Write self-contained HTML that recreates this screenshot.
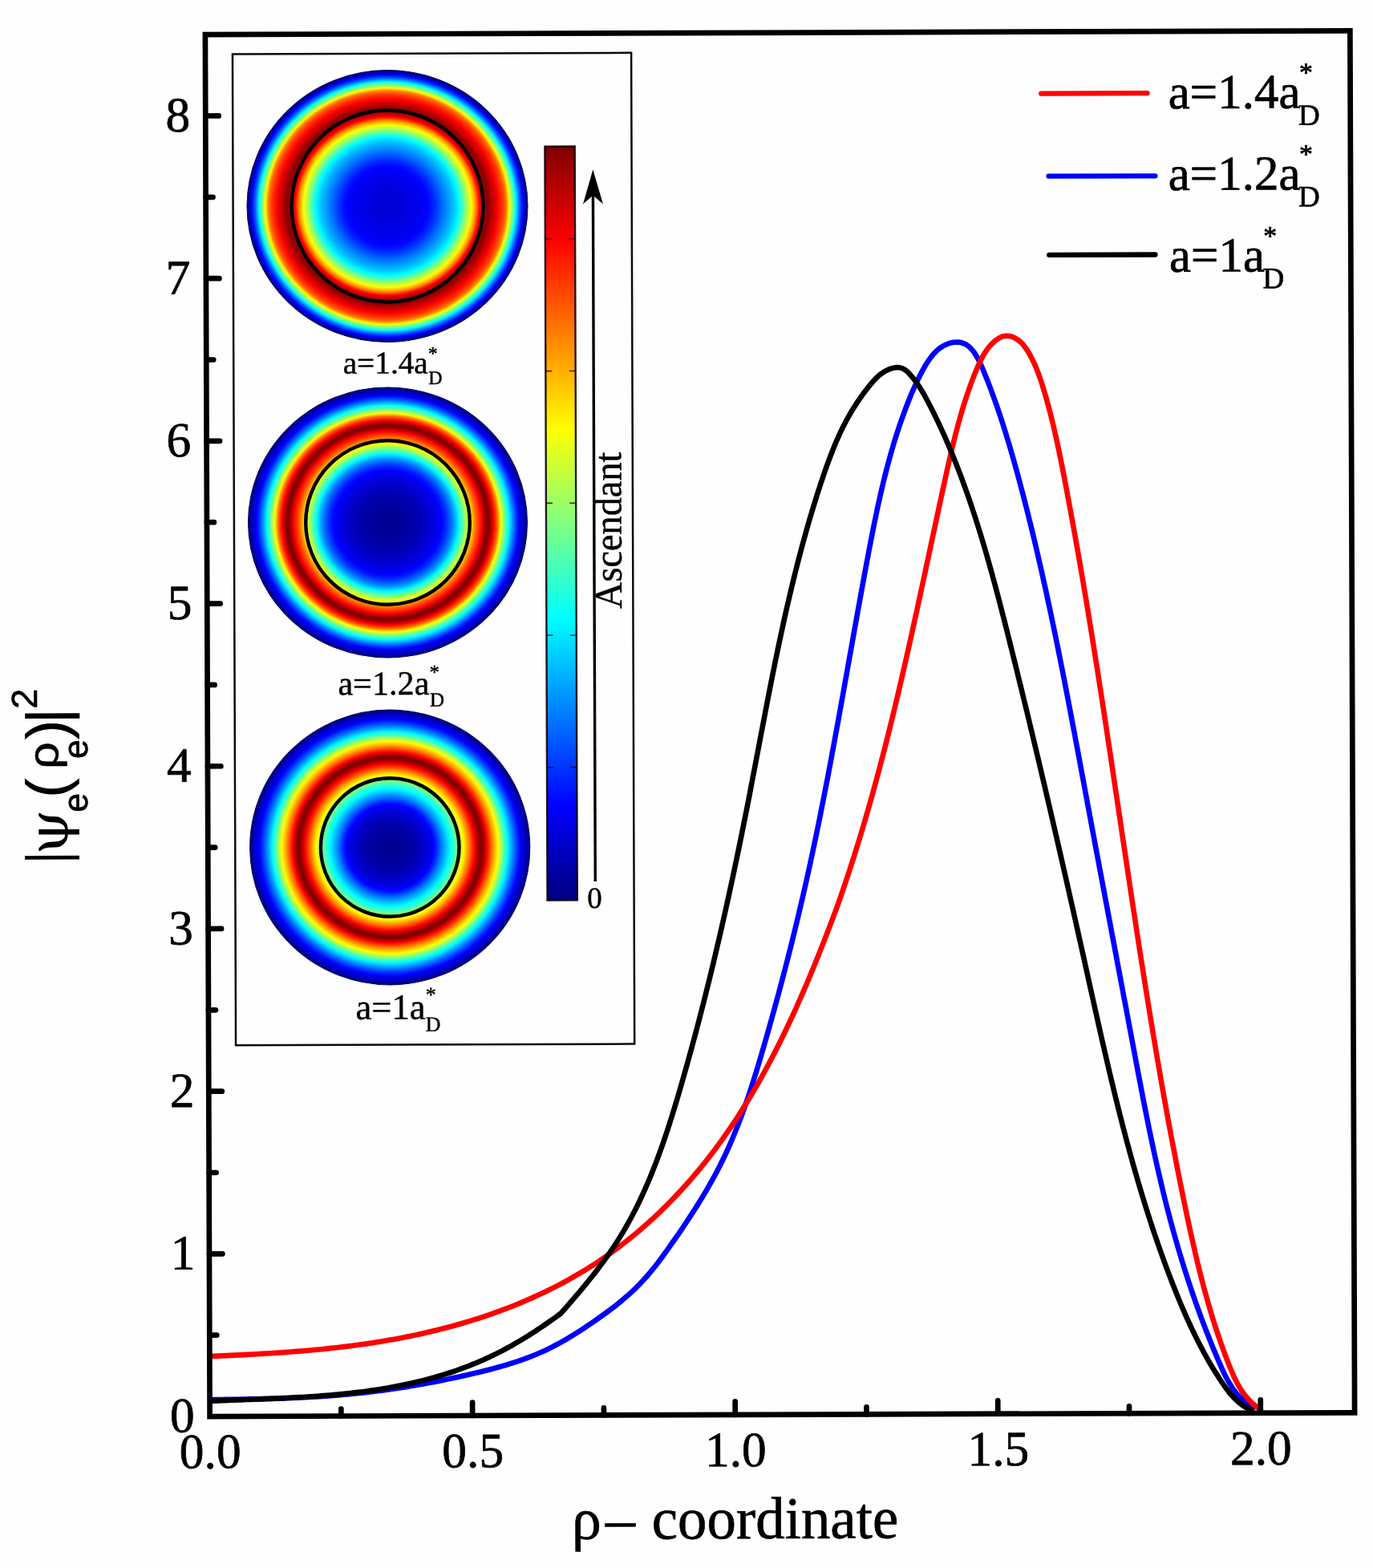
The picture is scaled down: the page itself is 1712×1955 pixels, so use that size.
<!DOCTYPE html>
<html lang="en">
<head>
<meta charset="utf-8">
<title>Electron probability density versus rho coordinate</title>
<style>
html,body{margin:0;padding:0;background:#fefefe;}
body{width:1712px;height:1955px;overflow:hidden;}
svg{display:block;}
text{fill:#000;stroke:#000;stroke-width:0.7px;stroke-linejoin:round;}
.sm{stroke-width:0.45px;}
.ns{stroke:none;}
.serif{font-family:'Liberation Serif', 'DejaVu Serif', serif;}
.sans{font-family:'Liberation Sans', 'DejaVu Sans', sans-serif;}
.dserif{font-family:'DejaVu Serif','Liberation Serif',serif;}
</style>
</head>
<body>
<svg width="1712" height="1955" viewBox="0 0 1712 1955">
<defs>
<radialGradient id="disc0" cx="0.5" cy="0.5" r="0.5" fx="0.5" fy="0.5"><stop offset="0.0000" stop-color="#0000d6"/><stop offset="0.0083" stop-color="#0000d6"/><stop offset="0.0167" stop-color="#0000d6"/><stop offset="0.0250" stop-color="#0000d7"/><stop offset="0.0333" stop-color="#0000d7"/><stop offset="0.0417" stop-color="#0000d7"/><stop offset="0.0500" stop-color="#0000d8"/><stop offset="0.0583" stop-color="#0000d9"/><stop offset="0.0667" stop-color="#0000d9"/><stop offset="0.0750" stop-color="#0000da"/><stop offset="0.0833" stop-color="#0000db"/><stop offset="0.0917" stop-color="#0000dc"/><stop offset="0.1000" stop-color="#0000dc"/><stop offset="0.1083" stop-color="#0000dd"/><stop offset="0.1167" stop-color="#0000de"/><stop offset="0.1250" stop-color="#0000df"/><stop offset="0.1333" stop-color="#0000e0"/><stop offset="0.1417" stop-color="#0000e2"/><stop offset="0.1500" stop-color="#0000e3"/><stop offset="0.1583" stop-color="#0000e4"/><stop offset="0.1667" stop-color="#0000e5"/><stop offset="0.1750" stop-color="#0000e6"/><stop offset="0.1833" stop-color="#0000e7"/><stop offset="0.1917" stop-color="#0000e8"/><stop offset="0.2000" stop-color="#0000ea"/><stop offset="0.2083" stop-color="#0000eb"/><stop offset="0.2167" stop-color="#0000ed"/><stop offset="0.2250" stop-color="#0000ef"/><stop offset="0.2333" stop-color="#0000f1"/><stop offset="0.2417" stop-color="#0000f3"/><stop offset="0.2500" stop-color="#0000f5"/><stop offset="0.2583" stop-color="#0000f8"/><stop offset="0.2667" stop-color="#0000fa"/><stop offset="0.2750" stop-color="#0000fd"/><stop offset="0.2833" stop-color="#0001ff"/><stop offset="0.2917" stop-color="#0005ff"/><stop offset="0.3000" stop-color="#000aff"/><stop offset="0.3083" stop-color="#0010ff"/><stop offset="0.3167" stop-color="#0017ff"/><stop offset="0.3250" stop-color="#001fff"/><stop offset="0.3333" stop-color="#0027ff"/><stop offset="0.3417" stop-color="#002fff"/><stop offset="0.3500" stop-color="#0038ff"/><stop offset="0.3583" stop-color="#0042ff"/><stop offset="0.3667" stop-color="#004bff"/><stop offset="0.3750" stop-color="#0055ff"/><stop offset="0.3833" stop-color="#005fff"/><stop offset="0.3917" stop-color="#0069ff"/><stop offset="0.4000" stop-color="#0073ff"/><stop offset="0.4083" stop-color="#007cff"/><stop offset="0.4167" stop-color="#0085ff"/><stop offset="0.4250" stop-color="#008eff"/><stop offset="0.4333" stop-color="#0097ff"/><stop offset="0.4417" stop-color="#00a0ff"/><stop offset="0.4500" stop-color="#00a9ff"/><stop offset="0.4583" stop-color="#00b2ff"/><stop offset="0.4667" stop-color="#00bcff"/><stop offset="0.4750" stop-color="#00c6ff"/><stop offset="0.4833" stop-color="#00d1ff"/><stop offset="0.4917" stop-color="#00deff"/><stop offset="0.5000" stop-color="#00ebff"/><stop offset="0.5083" stop-color="#00f9ff"/><stop offset="0.5167" stop-color="#0bfff4"/><stop offset="0.5250" stop-color="#22ffdd"/><stop offset="0.5333" stop-color="#3cffc3"/><stop offset="0.5417" stop-color="#57ffa8"/><stop offset="0.5500" stop-color="#72ff8d"/><stop offset="0.5583" stop-color="#8bff74"/><stop offset="0.5667" stop-color="#a3ff5c"/><stop offset="0.5750" stop-color="#baff45"/><stop offset="0.5833" stop-color="#d1ff2e"/><stop offset="0.5917" stop-color="#eaff15"/><stop offset="0.6000" stop-color="#fff900"/><stop offset="0.6083" stop-color="#ffdd00"/><stop offset="0.6167" stop-color="#ffbe00"/><stop offset="0.6250" stop-color="#ff9d00"/><stop offset="0.6333" stop-color="#ff7900"/><stop offset="0.6417" stop-color="#ff4e00"/><stop offset="0.6500" stop-color="#ff2000"/><stop offset="0.6583" stop-color="#fb0000"/><stop offset="0.6667" stop-color="#e00000"/><stop offset="0.6750" stop-color="#ca0000"/><stop offset="0.6833" stop-color="#b70000"/><stop offset="0.6917" stop-color="#a70000"/><stop offset="0.7000" stop-color="#970000"/><stop offset="0.7083" stop-color="#8c0000"/><stop offset="0.7167" stop-color="#8a0000"/><stop offset="0.7250" stop-color="#930000"/><stop offset="0.7333" stop-color="#a10000"/><stop offset="0.7417" stop-color="#b10000"/><stop offset="0.7500" stop-color="#be0000"/><stop offset="0.7583" stop-color="#cb0000"/><stop offset="0.7667" stop-color="#d80000"/><stop offset="0.7750" stop-color="#e70000"/><stop offset="0.7833" stop-color="#f50000"/><stop offset="0.7917" stop-color="#ff0600"/><stop offset="0.8000" stop-color="#ff1400"/><stop offset="0.8083" stop-color="#ff2200"/><stop offset="0.8167" stop-color="#ff3000"/><stop offset="0.8250" stop-color="#ff4000"/><stop offset="0.8333" stop-color="#ff5300"/><stop offset="0.8417" stop-color="#ff6900"/><stop offset="0.8500" stop-color="#ff8500"/><stop offset="0.8583" stop-color="#ffb700"/><stop offset="0.8667" stop-color="#fff300"/><stop offset="0.8750" stop-color="#daff25"/><stop offset="0.8833" stop-color="#acff53"/><stop offset="0.8917" stop-color="#7eff81"/><stop offset="0.9000" stop-color="#50ffaf"/><stop offset="0.9083" stop-color="#21ffde"/><stop offset="0.9167" stop-color="#00f2ff"/><stop offset="0.9250" stop-color="#00c2ff"/><stop offset="0.9333" stop-color="#0092ff"/><stop offset="0.9417" stop-color="#0067ff"/><stop offset="0.9500" stop-color="#0041ff"/><stop offset="0.9583" stop-color="#001eff"/><stop offset="0.9667" stop-color="#0000fb"/><stop offset="0.9750" stop-color="#0000d5"/><stop offset="0.9833" stop-color="#0000b1"/><stop offset="0.9917" stop-color="#000093"/><stop offset="1.0000" stop-color="#000080"/></radialGradient>
<radialGradient id="disc1" cx="0.5" cy="0.5" r="0.5" fx="0.5" fy="0.5"><stop offset="0.0000" stop-color="#000094"/><stop offset="0.0083" stop-color="#000094"/><stop offset="0.0167" stop-color="#000094"/><stop offset="0.0250" stop-color="#000094"/><stop offset="0.0333" stop-color="#000095"/><stop offset="0.0417" stop-color="#000095"/><stop offset="0.0500" stop-color="#000096"/><stop offset="0.0583" stop-color="#000097"/><stop offset="0.0667" stop-color="#000097"/><stop offset="0.0750" stop-color="#000098"/><stop offset="0.0833" stop-color="#000099"/><stop offset="0.0917" stop-color="#00009a"/><stop offset="0.1000" stop-color="#00009b"/><stop offset="0.1083" stop-color="#00009c"/><stop offset="0.1167" stop-color="#00009e"/><stop offset="0.1250" stop-color="#00009f"/><stop offset="0.1333" stop-color="#0000a0"/><stop offset="0.1417" stop-color="#0000a1"/><stop offset="0.1500" stop-color="#0000a3"/><stop offset="0.1583" stop-color="#0000a4"/><stop offset="0.1667" stop-color="#0000a6"/><stop offset="0.1750" stop-color="#0000a7"/><stop offset="0.1833" stop-color="#0000a9"/><stop offset="0.1917" stop-color="#0000aa"/><stop offset="0.2000" stop-color="#0000ac"/><stop offset="0.2083" stop-color="#0000af"/><stop offset="0.2167" stop-color="#0000b1"/><stop offset="0.2250" stop-color="#0000b4"/><stop offset="0.2333" stop-color="#0000b7"/><stop offset="0.2417" stop-color="#0000ba"/><stop offset="0.2500" stop-color="#0000bd"/><stop offset="0.2583" stop-color="#0000c0"/><stop offset="0.2667" stop-color="#0000c3"/><stop offset="0.2750" stop-color="#0000c7"/><stop offset="0.2833" stop-color="#0000ca"/><stop offset="0.2917" stop-color="#0000ce"/><stop offset="0.3000" stop-color="#0000d1"/><stop offset="0.3083" stop-color="#0000d5"/><stop offset="0.3167" stop-color="#0000d8"/><stop offset="0.3250" stop-color="#0000dc"/><stop offset="0.3333" stop-color="#0000e0"/><stop offset="0.3417" stop-color="#0000e4"/><stop offset="0.3500" stop-color="#0000e8"/><stop offset="0.3583" stop-color="#0000ed"/><stop offset="0.3667" stop-color="#0000f3"/><stop offset="0.3750" stop-color="#0000f9"/><stop offset="0.3833" stop-color="#0000ff"/><stop offset="0.3917" stop-color="#0008ff"/><stop offset="0.4000" stop-color="#0011ff"/><stop offset="0.4083" stop-color="#001cff"/><stop offset="0.4167" stop-color="#0028ff"/><stop offset="0.4250" stop-color="#0036ff"/><stop offset="0.4333" stop-color="#0044ff"/><stop offset="0.4417" stop-color="#0054ff"/><stop offset="0.4500" stop-color="#0064ff"/><stop offset="0.4583" stop-color="#0074ff"/><stop offset="0.4667" stop-color="#0086ff"/><stop offset="0.4750" stop-color="#0099ff"/><stop offset="0.4833" stop-color="#00aeff"/><stop offset="0.4917" stop-color="#00c6ff"/><stop offset="0.5000" stop-color="#00deff"/><stop offset="0.5083" stop-color="#00f7ff"/><stop offset="0.5167" stop-color="#12ffed"/><stop offset="0.5250" stop-color="#2dffd2"/><stop offset="0.5333" stop-color="#4affb5"/><stop offset="0.5417" stop-color="#68ff97"/><stop offset="0.5500" stop-color="#85ff7a"/><stop offset="0.5583" stop-color="#a2ff5d"/><stop offset="0.5667" stop-color="#beff41"/><stop offset="0.5750" stop-color="#d8ff27"/><stop offset="0.5833" stop-color="#f3ff0c"/><stop offset="0.5917" stop-color="#fff100"/><stop offset="0.6000" stop-color="#ffd600"/><stop offset="0.6083" stop-color="#ffba00"/><stop offset="0.6167" stop-color="#ff9b00"/><stop offset="0.6250" stop-color="#ff7f00"/><stop offset="0.6333" stop-color="#ff6600"/><stop offset="0.6417" stop-color="#ff4f00"/><stop offset="0.6500" stop-color="#ff3a00"/><stop offset="0.6583" stop-color="#ff2500"/><stop offset="0.6667" stop-color="#ff0f00"/><stop offset="0.6750" stop-color="#f80000"/><stop offset="0.6833" stop-color="#dc0000"/><stop offset="0.6917" stop-color="#bd0000"/><stop offset="0.7000" stop-color="#a00000"/><stop offset="0.7083" stop-color="#8a0000"/><stop offset="0.7167" stop-color="#800000"/><stop offset="0.7250" stop-color="#850000"/><stop offset="0.7333" stop-color="#9b0000"/><stop offset="0.7417" stop-color="#ba0000"/><stop offset="0.7500" stop-color="#dd0000"/><stop offset="0.7583" stop-color="#fe0000"/><stop offset="0.7667" stop-color="#ff1d00"/><stop offset="0.7750" stop-color="#ff3e00"/><stop offset="0.7833" stop-color="#ff6100"/><stop offset="0.7917" stop-color="#ff8a00"/><stop offset="0.8000" stop-color="#ffc000"/><stop offset="0.8083" stop-color="#fff700"/><stop offset="0.8167" stop-color="#dbff24"/><stop offset="0.8250" stop-color="#b2ff4d"/><stop offset="0.8333" stop-color="#8bff74"/><stop offset="0.8417" stop-color="#66ff99"/><stop offset="0.8500" stop-color="#43ffbc"/><stop offset="0.8583" stop-color="#21ffde"/><stop offset="0.8667" stop-color="#00ffff"/><stop offset="0.8750" stop-color="#00deff"/><stop offset="0.8833" stop-color="#00beff"/><stop offset="0.8917" stop-color="#009eff"/><stop offset="0.9000" stop-color="#007fff"/><stop offset="0.9083" stop-color="#0062ff"/><stop offset="0.9167" stop-color="#0046ff"/><stop offset="0.9250" stop-color="#002bff"/><stop offset="0.9333" stop-color="#0013ff"/><stop offset="0.9417" stop-color="#0000fb"/><stop offset="0.9500" stop-color="#0000e8"/><stop offset="0.9583" stop-color="#0000d6"/><stop offset="0.9667" stop-color="#0000c6"/><stop offset="0.9750" stop-color="#0000b6"/><stop offset="0.9833" stop-color="#0000a5"/><stop offset="0.9917" stop-color="#000093"/><stop offset="1.0000" stop-color="#000080"/></radialGradient>
<radialGradient id="disc2" cx="0.5" cy="0.5" r="0.5" fx="0.5" fy="0.5"><stop offset="0.0000" stop-color="#000094"/><stop offset="0.0083" stop-color="#000094"/><stop offset="0.0167" stop-color="#000094"/><stop offset="0.0250" stop-color="#000095"/><stop offset="0.0333" stop-color="#000095"/><stop offset="0.0417" stop-color="#000096"/><stop offset="0.0500" stop-color="#000096"/><stop offset="0.0583" stop-color="#000097"/><stop offset="0.0667" stop-color="#000098"/><stop offset="0.0750" stop-color="#000099"/><stop offset="0.0833" stop-color="#00009a"/><stop offset="0.0917" stop-color="#00009b"/><stop offset="0.1000" stop-color="#00009c"/><stop offset="0.1083" stop-color="#00009e"/><stop offset="0.1167" stop-color="#00009f"/><stop offset="0.1250" stop-color="#0000a1"/><stop offset="0.1333" stop-color="#0000a2"/><stop offset="0.1417" stop-color="#0000a4"/><stop offset="0.1500" stop-color="#0000a6"/><stop offset="0.1583" stop-color="#0000a7"/><stop offset="0.1667" stop-color="#0000a9"/><stop offset="0.1750" stop-color="#0000ab"/><stop offset="0.1833" stop-color="#0000ae"/><stop offset="0.1917" stop-color="#0000b2"/><stop offset="0.2000" stop-color="#0000b6"/><stop offset="0.2083" stop-color="#0000ba"/><stop offset="0.2167" stop-color="#0000be"/><stop offset="0.2250" stop-color="#0000c3"/><stop offset="0.2333" stop-color="#0000c8"/><stop offset="0.2417" stop-color="#0000cd"/><stop offset="0.2500" stop-color="#0000d1"/><stop offset="0.2583" stop-color="#0000d6"/><stop offset="0.2667" stop-color="#0000db"/><stop offset="0.2750" stop-color="#0000e1"/><stop offset="0.2833" stop-color="#0000e6"/><stop offset="0.2917" stop-color="#0000ed"/><stop offset="0.3000" stop-color="#0000f4"/><stop offset="0.3083" stop-color="#0000fd"/><stop offset="0.3167" stop-color="#0008ff"/><stop offset="0.3250" stop-color="#0016ff"/><stop offset="0.3333" stop-color="#0028ff"/><stop offset="0.3417" stop-color="#003bff"/><stop offset="0.3500" stop-color="#004fff"/><stop offset="0.3583" stop-color="#0064ff"/><stop offset="0.3667" stop-color="#0077ff"/><stop offset="0.3750" stop-color="#0089ff"/><stop offset="0.3833" stop-color="#009bff"/><stop offset="0.3917" stop-color="#00acff"/><stop offset="0.4000" stop-color="#00beff"/><stop offset="0.4083" stop-color="#00cfff"/><stop offset="0.4167" stop-color="#00e1ff"/><stop offset="0.4250" stop-color="#00f3ff"/><stop offset="0.4333" stop-color="#06fff9"/><stop offset="0.4417" stop-color="#17ffe8"/><stop offset="0.4500" stop-color="#28ffd7"/><stop offset="0.4583" stop-color="#3affc5"/><stop offset="0.4667" stop-color="#4dffb2"/><stop offset="0.4750" stop-color="#62ff9d"/><stop offset="0.4833" stop-color="#79ff86"/><stop offset="0.4917" stop-color="#93ff6c"/><stop offset="0.5000" stop-color="#aeff51"/><stop offset="0.5083" stop-color="#caff35"/><stop offset="0.5167" stop-color="#e5ff1a"/><stop offset="0.5250" stop-color="#fffe00"/><stop offset="0.5333" stop-color="#ffe300"/><stop offset="0.5417" stop-color="#ffc900"/><stop offset="0.5500" stop-color="#ffae00"/><stop offset="0.5583" stop-color="#ff9400"/><stop offset="0.5667" stop-color="#ff7900"/><stop offset="0.5750" stop-color="#ff5e00"/><stop offset="0.5833" stop-color="#ff4300"/><stop offset="0.5917" stop-color="#ff2800"/><stop offset="0.6000" stop-color="#ff0e00"/><stop offset="0.6083" stop-color="#f50000"/><stop offset="0.6167" stop-color="#da0000"/><stop offset="0.6250" stop-color="#bd0000"/><stop offset="0.6333" stop-color="#a40000"/><stop offset="0.6417" stop-color="#8f0000"/><stop offset="0.6500" stop-color="#820000"/><stop offset="0.6583" stop-color="#810000"/><stop offset="0.6667" stop-color="#910000"/><stop offset="0.6750" stop-color="#ae0000"/><stop offset="0.6833" stop-color="#d00000"/><stop offset="0.6917" stop-color="#f20000"/><stop offset="0.7000" stop-color="#ff1000"/><stop offset="0.7083" stop-color="#ff2d00"/><stop offset="0.7167" stop-color="#ff4b00"/><stop offset="0.7250" stop-color="#ff6800"/><stop offset="0.7333" stop-color="#ff8400"/><stop offset="0.7417" stop-color="#ff9f00"/><stop offset="0.7500" stop-color="#ffb900"/><stop offset="0.7583" stop-color="#ffd200"/><stop offset="0.7667" stop-color="#ffed00"/><stop offset="0.7750" stop-color="#f5ff0a"/><stop offset="0.7833" stop-color="#d6ff29"/><stop offset="0.7917" stop-color="#b6ff49"/><stop offset="0.8000" stop-color="#94ff6b"/><stop offset="0.8083" stop-color="#72ff8d"/><stop offset="0.8167" stop-color="#51ffae"/><stop offset="0.8250" stop-color="#31ffce"/><stop offset="0.8333" stop-color="#13ffec"/><stop offset="0.8417" stop-color="#00f7ff"/><stop offset="0.8500" stop-color="#00dcff"/><stop offset="0.8583" stop-color="#00c3ff"/><stop offset="0.8667" stop-color="#00aaff"/><stop offset="0.8750" stop-color="#0091ff"/><stop offset="0.8833" stop-color="#007aff"/><stop offset="0.8917" stop-color="#0063ff"/><stop offset="0.9000" stop-color="#004dff"/><stop offset="0.9083" stop-color="#0038ff"/><stop offset="0.9167" stop-color="#0024ff"/><stop offset="0.9250" stop-color="#0010ff"/><stop offset="0.9333" stop-color="#0000fd"/><stop offset="0.9417" stop-color="#0000ec"/><stop offset="0.9500" stop-color="#0000dd"/><stop offset="0.9583" stop-color="#0000ce"/><stop offset="0.9667" stop-color="#0000c0"/><stop offset="0.9750" stop-color="#0000b2"/><stop offset="0.9833" stop-color="#0000a3"/><stop offset="0.9917" stop-color="#000092"/><stop offset="1.0000" stop-color="#000080"/></radialGradient>
<linearGradient id="cbar" x1="0" y1="0" x2="0" y2="1"><stop offset="0.0000" stop-color="#800000"/><stop offset="0.0312" stop-color="#9f0000"/><stop offset="0.0625" stop-color="#bf0000"/><stop offset="0.0938" stop-color="#df0000"/><stop offset="0.1250" stop-color="#ff0000"/><stop offset="0.1562" stop-color="#ff2000"/><stop offset="0.1875" stop-color="#ff4000"/><stop offset="0.2188" stop-color="#ff6000"/><stop offset="0.2500" stop-color="#ff8000"/><stop offset="0.2812" stop-color="#ff9f00"/><stop offset="0.3125" stop-color="#ffbf00"/><stop offset="0.3438" stop-color="#ffdf00"/><stop offset="0.3750" stop-color="#ffff00"/><stop offset="0.4062" stop-color="#dfff20"/><stop offset="0.4375" stop-color="#bfff40"/><stop offset="0.4688" stop-color="#9fff60"/><stop offset="0.5000" stop-color="#80ff80"/><stop offset="0.5312" stop-color="#60ff9f"/><stop offset="0.5625" stop-color="#40ffbf"/><stop offset="0.5938" stop-color="#20ffdf"/><stop offset="0.6250" stop-color="#00ffff"/><stop offset="0.6562" stop-color="#00dfff"/><stop offset="0.6875" stop-color="#00bfff"/><stop offset="0.7188" stop-color="#009fff"/><stop offset="0.7500" stop-color="#0080ff"/><stop offset="0.7812" stop-color="#0060ff"/><stop offset="0.8125" stop-color="#0040ff"/><stop offset="0.8438" stop-color="#0020ff"/><stop offset="0.8750" stop-color="#0000ff"/><stop offset="0.9062" stop-color="#0000df"/><stop offset="0.9375" stop-color="#0000bf"/><stop offset="0.9688" stop-color="#00009f"/><stop offset="1.0000" stop-color="#000080"/></linearGradient>
<clipPath id="plotclip"><rect x="259" y="41.1" width="1427.5" height="1723"/></clipPath>
</defs>
<rect x="0" y="0" width="1712" height="1955" fill="#fefefe"/>
<g transform="rotate(-0.19 856.0 977.5)">
<rect x="292.97" y="65.6" width="497.15" height="1235.76" fill="#fefefe" stroke="#0c0c0c" stroke-width="2.5"/>
<ellipse cx="485.39" cy="255.77" rx="175" ry="169.4" fill="url(#disc0)" stroke="#000050" stroke-width="1"/>
<circle cx="485.39" cy="255.77" r="119.5" fill="none" stroke="#000" stroke-width="4.4"/>
<ellipse cx="484.58" cy="650.27" rx="174" ry="168.5" fill="url(#disc1)" stroke="#000050" stroke-width="1"/>
<circle cx="484.58" cy="650.27" r="102.3" fill="none" stroke="#000" stroke-width="4.4"/>
<ellipse cx="485.94" cy="1055.27" rx="174.6" ry="171.4" fill="url(#disc2)" stroke="#000050" stroke-width="1"/>
<circle cx="485.94" cy="1055.27" r="86.3" fill="none" stroke="#000" stroke-width="4.4"/>
<rect x="682.04" y="182.01" width="37.3" height="939.94" fill="url(#cbar)" stroke="#10000a" stroke-opacity="0.9" stroke-width="2.4"/>
<path d="M682.04 297.59h8M719.34 297.59h-8" stroke="#200" stroke-opacity="0.8" stroke-width="1.6" fill="none"/>
<path d="M682.04 462.09h8M719.34 462.09h-8" stroke="#200" stroke-opacity="0.8" stroke-width="1.6" fill="none"/>
<path d="M682.04 626.78h8M719.34 626.78h-8" stroke="#200" stroke-opacity="0.8" stroke-width="1.6" fill="none"/>
<path d="M682.04 791.48h8M719.34 791.48h-8" stroke="#200" stroke-opacity="0.8" stroke-width="1.6" fill="none"/>
<path d="M682.04 956.18h8M719.34 956.18h-8" stroke="#200" stroke-opacity="0.8" stroke-width="1.6" fill="none"/>
<path d="M741.87 1098.62V241.12" stroke="#000" stroke-width="3.4" fill="none"/>
<path d="M741.87 211.12L754.37 254.12L741.87 243.12L729.37 254.12Z" fill="#000"/>
<path d="M258.79 1743.22L263.9 1743.16L269.02 1743.11L274.13 1743.05L279.25 1743L284.37 1742.94L289.49 1742.88L294.61 1742.82L299.73 1742.75L304.86 1742.68L309.98 1742.6L315.11 1742.52L320.23 1742.43L325.36 1742.33L330.49 1742.23L335.62 1742.11L340.74 1741.98L345.87 1741.84L351 1741.69L356.13 1741.53L361.25 1741.35L366.38 1741.15L371.5 1740.95L376.63 1740.72L381.75 1740.48L386.87 1740.21L391.99 1739.93L397.1 1739.63L402.22 1739.31L407.33 1738.97L412.44 1738.6L417.55 1738.21L422.66 1737.8L427.76 1737.36L432.86 1736.9L437.96 1736.41L443.05 1735.9L448.14 1735.37L453.23 1734.81L458.32 1734.23L463.4 1733.63L468.48 1733L473.56 1732.35L478.63 1731.68L483.7 1730.98L488.77 1730.26L493.84 1729.52L498.9 1728.76L503.96 1727.97L509.02 1727.16L514.07 1726.33L519.12 1725.48L524.17 1724.6L529.21 1723.71L534.25 1722.79L539.29 1721.84L544.32 1720.88L549.35 1719.9L554.38 1718.89L559.4 1717.87L564.42 1716.82L569.44 1715.75L574.45 1714.66L579.46 1713.55L584.47 1712.42L589.47 1711.26L594.47 1710.09L599.46 1708.89L604.45 1707.66L609.42 1706.4L614.39 1705.1L619.34 1703.76L624.27 1702.38L629.19 1700.96L634.09 1699.48L638.97 1697.94L643.83 1696.35L648.66 1694.7L653.47 1692.98L658.25 1691.2L663 1689.34L667.72 1687.4L672.4 1685.39L677.05 1683.29L681.66 1681.11L686.24 1678.85L690.79 1676.5L695.3 1674.08L699.77 1671.6L704.22 1669.04L708.64 1666.43L713.04 1663.76L717.4 1661.04L721.75 1658.27L726.07 1655.46L730.36 1652.62L734.64 1649.74L738.9 1646.83L743.14 1643.89L747.36 1640.93L751.55 1637.93L755.71 1634.9L759.83 1631.83L763.91 1628.71L767.95 1625.55L771.94 1622.33L775.88 1619.06L779.76 1615.74L783.58 1612.35L787.34 1608.9L791.02 1605.38L794.64 1601.8L798.17 1598.13L801.63 1594.39L805.01 1590.59L808.33 1586.72L811.59 1582.79L814.79 1578.81L817.94 1574.78L821.05 1570.71L824.12 1566.6L827.16 1562.46L830.17 1558.3L833.15 1554.11L836.12 1549.91L839.08 1545.7L842.03 1541.48L844.96 1537.24L847.88 1533L850.77 1528.74L853.65 1524.47L856.51 1520.19L859.35 1515.89L862.16 1511.58L864.95 1507.25L867.71 1502.91L870.44 1498.56L873.14 1494.18L875.81 1489.8L878.45 1485.39L881.05 1480.97L883.61 1476.52L886.14 1472.06L888.62 1467.59L891.07 1463.09L893.47 1458.57L895.82 1454.03L898.13 1449.47L900.4 1444.89L902.61 1440.29L904.78 1435.66L906.91 1431.02L908.99 1426.36L911.03 1421.68L913.04 1416.99L915 1412.27L916.93 1407.54L918.82 1402.8L920.67 1398.04L922.5 1393.26L924.29 1388.47L926.05 1383.67L927.78 1378.86L929.48 1374.03L931.16 1369.19L932.81 1364.35L934.44 1359.49L936.04 1354.62L937.63 1349.75L939.19 1344.86L940.73 1339.97L942.26 1335.07L943.77 1330.17L945.27 1325.26L946.75 1320.34L948.22 1315.42L949.68 1310.5L951.13 1305.57L952.57 1300.64L954 1295.71L955.43 1290.78L956.85 1285.84L958.26 1280.91L959.67 1275.97L961.07 1271.03L962.46 1266.09L963.85 1261.15L965.23 1256.2L966.6 1251.26L967.97 1246.31L969.32 1241.36L970.67 1236.41L972.02 1231.45L973.35 1226.5L974.68 1221.54L976 1216.59L977.32 1211.63L978.62 1206.67L979.92 1201.7L981.22 1196.74L982.5 1191.77L983.78 1186.81L985.05 1181.84L986.31 1176.87L987.56 1171.9L988.81 1166.92L990.05 1161.95L991.28 1156.97L992.5 1151.99L993.72 1147.01L994.93 1142.03L996.13 1137.05L997.32 1132.07L998.5 1127.08L999.68 1122.1L1000.85 1117.11L1002.01 1112.12L1003.16 1107.13L1004.31 1102.13L1005.44 1097.14L1006.57 1092.15L1007.69 1087.15L1008.81 1082.15L1009.91 1077.15L1011.01 1072.15L1012.1 1067.15L1013.19 1062.15L1014.26 1057.14L1015.33 1052.14L1016.4 1047.13L1017.45 1042.12L1018.5 1037.11L1019.55 1032.1L1020.59 1027.09L1021.62 1022.08L1022.65 1017.06L1023.67 1012.05L1024.68 1007.03L1025.69 1002.01L1026.7 996.99L1027.7 991.97L1028.69 986.95L1029.68 981.93L1030.67 976.91L1031.65 971.88L1032.63 966.86L1033.6 961.83L1034.57 956.81L1035.53 951.78L1036.49 946.75L1037.45 941.72L1038.41 936.69L1039.36 931.66L1040.31 926.63L1041.25 921.6L1042.19 916.56L1043.13 911.53L1044.07 906.5L1045.01 901.46L1045.94 896.42L1046.87 891.39L1047.8 886.35L1048.72 881.31L1049.65 876.27L1050.57 871.23L1051.49 866.19L1052.42 861.15L1053.34 856.11L1054.25 851.07L1055.17 846.02L1056.09 840.98L1057.01 835.94L1057.92 830.89L1058.84 825.85L1059.76 820.8L1060.68 815.75L1061.59 810.71L1062.51 805.66L1063.43 800.61L1064.35 795.57L1065.27 790.52L1066.19 785.47L1067.11 780.42L1068.03 775.37L1068.96 770.32L1069.89 765.27L1070.81 760.23L1071.74 755.18L1072.68 750.12L1073.61 745.07L1074.55 740.02L1075.49 734.97L1076.43 729.92L1077.37 724.87L1078.32 719.82L1079.27 714.77L1080.23 709.72L1081.18 704.66L1082.14 699.61L1083.11 694.56L1084.08 689.51L1085.05 684.46L1086.04 679.41L1087.03 674.36L1088.02 669.32L1089.03 664.28L1090.05 659.24L1091.08 654.2L1092.13 649.17L1093.18 644.14L1094.25 639.11L1095.34 634.09L1096.44 629.08L1097.56 624.07L1098.7 619.07L1099.86 614.07L1101.04 609.08L1102.24 604.1L1103.46 599.13L1104.7 594.16L1105.97 589.21L1107.26 584.26L1108.59 579.32L1109.93 574.39L1111.31 569.48L1112.71 564.57L1114.15 559.67L1115.61 554.79L1117.11 549.92L1118.64 545.06L1120.2 540.21L1121.8 535.37L1123.44 530.55L1125.11 525.74L1126.82 520.95L1128.56 516.17L1130.35 511.41L1132.18 506.66L1134.05 501.93L1135.96 497.22L1137.92 492.52L1139.94 487.83L1142.03 483.16L1144.18 478.51L1146.42 473.86L1148.74 469.23L1151.16 464.61L1153.69 460.01L1156.34 455.46L1159.16 451.04L1162.17 446.81L1165.42 442.82L1168.93 439.15L1172.74 435.85L1176.88 432.99L1181.38 430.64L1186.21 428.87L1191.22 427.83L1196.22 427.66L1201.04 428.48L1205.56 430.27L1209.63 432.97L1213.22 436.45L1216.4 440.5L1219.22 444.94L1221.74 449.57L1224.02 454.27L1226.12 459L1228.11 463.75L1230.04 468.52L1231.93 473.29L1233.8 478.08L1235.63 482.88L1237.43 487.68L1239.2 492.5L1240.93 497.32L1242.64 502.16L1244.33 507L1245.98 511.85L1247.61 516.71L1249.21 521.57L1250.79 526.45L1252.35 531.33L1253.88 536.21L1255.39 541.11L1256.88 546.01L1258.34 550.91L1259.79 555.82L1261.23 560.74L1262.64 565.66L1264.04 570.59L1265.42 575.52L1266.78 580.45L1268.14 585.39L1269.48 590.33L1270.8 595.28L1272.12 600.22L1273.42 605.18L1274.72 610.13L1276 615.09L1277.28 620.05L1278.55 625.01L1279.8 629.97L1281.05 634.94L1282.29 639.91L1283.51 644.88L1284.73 649.85L1285.94 654.83L1287.14 659.81L1288.34 664.79L1289.52 669.77L1290.7 674.75L1291.86 679.74L1293.02 684.73L1294.17 689.72L1295.32 694.71L1296.45 699.71L1297.58 704.71L1298.7 709.71L1299.81 714.71L1300.92 719.71L1302.02 724.71L1303.11 729.72L1304.2 734.73L1305.28 739.74L1306.35 744.75L1307.42 749.76L1308.48 754.77L1309.53 759.79L1310.58 764.81L1311.62 769.83L1312.66 774.85L1313.69 779.87L1314.71 784.89L1315.73 789.91L1316.75 794.94L1317.76 799.97L1318.76 804.99L1319.76 810.02L1320.76 815.05L1321.75 820.08L1322.74 825.11L1323.72 830.15L1324.7 835.18L1325.68 840.22L1326.65 845.25L1327.62 850.29L1328.58 855.32L1329.54 860.36L1330.5 865.4L1331.45 870.44L1332.4 875.48L1333.35 880.52L1334.3 885.56L1335.24 890.6L1336.18 895.64L1337.12 900.69L1338.06 905.73L1338.99 910.77L1339.93 915.81L1340.86 920.86L1341.79 925.9L1342.72 930.95L1343.64 935.99L1344.57 941.03L1345.49 946.08L1346.42 951.12L1347.34 956.17L1348.26 961.21L1349.18 966.26L1350.1 971.3L1351.02 976.34L1351.94 981.39L1352.87 986.43L1353.79 991.47L1354.71 996.52L1355.63 1001.56L1356.55 1006.6L1357.47 1011.64L1358.4 1016.69L1359.32 1021.73L1360.25 1026.77L1361.17 1031.81L1362.1 1036.85L1363.02 1041.89L1363.95 1046.93L1364.87 1051.97L1365.8 1057.01L1366.73 1062.05L1367.66 1067.08L1368.59 1072.12L1369.51 1077.16L1370.44 1082.2L1371.37 1087.24L1372.3 1092.27L1373.23 1097.31L1374.16 1102.35L1375.09 1107.39L1376.02 1112.42L1376.95 1117.46L1377.89 1122.5L1378.82 1127.53L1379.75 1132.57L1380.68 1137.61L1381.61 1142.64L1382.54 1147.68L1383.48 1152.72L1384.41 1157.75L1385.34 1162.79L1386.27 1167.83L1387.21 1172.86L1388.14 1177.9L1389.07 1182.94L1390 1187.97L1390.94 1193.01L1391.87 1198.05L1392.8 1203.08L1393.73 1208.12L1394.67 1213.16L1395.6 1218.19L1396.53 1223.23L1397.46 1228.27L1398.4 1233.31L1399.33 1238.35L1400.26 1243.38L1401.19 1248.42L1402.12 1253.46L1403.06 1258.5L1403.99 1263.54L1404.92 1268.58L1405.85 1273.62L1406.78 1278.66L1407.71 1283.7L1408.64 1288.74L1409.57 1293.78L1410.5 1298.82L1411.43 1303.86L1412.36 1308.91L1413.29 1313.95L1414.22 1318.99L1415.15 1324.03L1416.08 1329.07L1417.01 1334.12L1417.95 1339.16L1418.89 1344.2L1419.83 1349.24L1420.78 1354.28L1421.73 1359.32L1422.68 1364.36L1423.64 1369.39L1424.6 1374.43L1425.57 1379.47L1426.55 1384.5L1427.53 1389.53L1428.52 1394.56L1429.51 1399.59L1430.51 1404.62L1431.52 1409.65L1432.54 1414.67L1433.57 1419.7L1434.61 1424.72L1435.65 1429.73L1436.71 1434.75L1437.77 1439.76L1438.85 1444.77L1439.94 1449.78L1441.04 1454.79L1442.15 1459.79L1443.27 1464.79L1444.41 1469.79L1445.56 1474.78L1446.72 1479.77L1447.9 1484.76L1449.09 1489.74L1450.3 1494.72L1451.52 1499.7L1452.76 1504.67L1454.01 1509.64L1455.28 1514.61L1456.56 1519.57L1457.87 1524.53L1459.18 1529.48L1460.52 1534.43L1461.87 1539.37L1463.24 1544.31L1464.62 1549.24L1466.03 1554.17L1467.45 1559.09L1468.89 1564.01L1470.34 1568.93L1471.82 1573.83L1473.31 1578.73L1474.82 1583.63L1476.35 1588.52L1477.9 1593.41L1479.47 1598.29L1481.06 1603.16L1482.66 1608.02L1484.29 1612.88L1485.93 1617.74L1487.6 1622.58L1489.28 1627.42L1490.99 1632.26L1492.72 1637.08L1494.46 1641.9L1496.23 1646.71L1498.02 1651.52L1499.83 1656.31L1501.66 1661.1L1503.51 1665.88L1505.39 1670.66L1507.28 1675.42L1509.2 1680.18L1511.14 1684.93L1513.1 1689.67L1515.09 1694.4L1517.09 1699.12L1519.12 1703.84L1521.19 1708.54L1523.32 1713.2L1525.55 1717.81L1527.91 1722.34L1530.43 1726.77L1533.13 1731.09L1536.03 1735.28L1539.14 1739.31L1542.46 1743.17L1546.01 1746.84L1549.79 1750.31L1553.81 1753.55L1558.09 1756.55L1562.62 1759.28" fill="none" stroke="#0000ff" stroke-width="6.6" stroke-linejoin="round" stroke-linecap="butt" clip-path="url(#plotclip)"/>
<path d="M259 1689.15L264.47 1688.94L269.95 1688.72L275.42 1688.49L280.89 1688.26L286.37 1688.02L291.85 1687.78L297.32 1687.53L302.8 1687.27L308.28 1687L313.75 1686.72L319.23 1686.44L324.71 1686.14L330.19 1685.83L335.66 1685.51L341.14 1685.17L346.61 1684.82L352.09 1684.46L357.56 1684.08L363.04 1683.68L368.51 1683.27L373.98 1682.85L379.45 1682.4L384.92 1681.94L390.38 1681.45L395.85 1680.95L401.31 1680.42L406.77 1679.88L412.23 1679.31L417.68 1678.72L423.13 1678.11L428.59 1677.47L434.03 1676.81L439.48 1676.12L444.92 1675.41L450.36 1674.67L455.8 1673.9L461.23 1673.11L466.66 1672.28L472.08 1671.43L477.5 1670.54L482.92 1669.63L488.33 1668.68L493.74 1667.71L499.14 1666.7L504.53 1665.66L509.92 1664.59L515.3 1663.48L520.68 1662.35L526.04 1661.17L531.4 1659.97L536.75 1658.73L542.09 1657.45L547.42 1656.14L552.74 1654.79L558.06 1653.41L563.36 1651.99L568.65 1650.53L573.93 1649.04L579.2 1647.51L584.45 1645.94L589.7 1644.33L594.93 1642.68L600.15 1640.99L605.35 1639.26L610.54 1637.49L615.72 1635.68L620.88 1633.83L626.02 1631.94L631.16 1630L636.27 1628.02L641.37 1626L646.45 1623.94L651.52 1621.83L656.56 1619.67L661.59 1617.47L666.6 1615.23L671.59 1612.94L676.56 1610.61L681.51 1608.23L686.43 1605.81L691.33 1603.33L696.21 1600.82L701.06 1598.25L705.89 1595.64L710.69 1592.98L715.47 1590.27L720.21 1587.52L724.93 1584.72L729.62 1581.87L734.27 1578.97L738.9 1576.02L743.49 1573.02L748.05 1569.98L752.58 1566.89L757.08 1563.75L761.54 1560.56L765.98 1557.33L770.38 1554.05L774.74 1550.73L779.08 1547.36L783.38 1543.96L787.64 1540.5L791.88 1537.01L796.08 1533.48L800.25 1529.9L804.38 1526.29L808.48 1522.63L812.54 1518.94L816.57 1515.2L820.57 1511.43L824.53 1507.63L828.46 1503.79L832.35 1499.91L836.21 1495.99L840.03 1492.05L843.82 1488.07L847.57 1484.05L851.28 1480.01L854.96 1475.93L858.61 1471.82L862.22 1467.68L865.79 1463.51L869.32 1459.31L872.82 1455.08L876.29 1450.82L879.71 1446.54L883.11 1442.23L886.46 1437.89L889.78 1433.53L893.06 1429.14L896.31 1424.73L899.53 1420.29L902.71 1415.83L905.86 1411.35L908.97 1406.84L912.05 1402.31L915.1 1397.75L918.12 1393.18L921.11 1388.58L924.06 1383.96L926.99 1379.33L929.88 1374.67L932.75 1369.99L935.58 1365.29L938.39 1360.57L941.17 1355.84L943.92 1351.09L946.64 1346.32L949.33 1341.53L952 1336.73L954.64 1331.91L957.26 1327.07L959.85 1322.22L962.41 1317.36L964.95 1312.48L967.47 1307.59L969.96 1302.68L972.43 1297.76L974.87 1292.83L977.29 1287.88L979.69 1282.93L982.07 1277.96L984.43 1272.99L986.76 1268L989.07 1263L991.37 1258L993.64 1252.98L995.9 1247.96L998.13 1242.92L1000.35 1237.89L1002.54 1232.84L1004.72 1227.79L1006.89 1222.73L1009.03 1217.66L1011.16 1212.59L1013.27 1207.52L1015.37 1202.44L1017.45 1197.36L1019.52 1192.27L1021.57 1187.18L1023.61 1182.09L1025.63 1176.99L1027.64 1171.9L1029.64 1166.8L1031.62 1161.7L1033.6 1156.6L1035.56 1151.51L1037.51 1146.41L1039.44 1141.31L1041.37 1136.22L1043.29 1131.12L1043.29 1131.12L1045.01 1126.34L1046.7 1121.55L1048.39 1116.76L1050.06 1111.96L1051.71 1107.16L1053.36 1102.36L1054.99 1097.55L1056.61 1092.74L1058.21 1087.92L1059.8 1083.11L1061.38 1078.28L1062.95 1073.45L1064.51 1068.62L1066.05 1063.79L1067.58 1058.95L1069.1 1054.11L1070.61 1049.27L1072.1 1044.42L1073.59 1039.57L1075.06 1034.71L1076.53 1029.86L1077.98 1024.99L1079.42 1020.13L1080.85 1015.26L1082.27 1010.39L1083.68 1005.52L1085.08 1000.64L1086.47 995.76L1087.85 990.88L1089.22 986L1090.59 981.11L1091.94 976.22L1093.28 971.33L1094.62 966.43L1095.94 961.53L1097.26 956.63L1098.57 951.73L1099.87 946.82L1101.16 941.92L1102.44 937.01L1103.72 932.09L1104.99 927.18L1106.25 922.26L1107.5 917.34L1108.75 912.42L1109.98 907.5L1111.22 902.57L1112.44 897.65L1113.66 892.72L1114.87 887.79L1116.08 882.86L1117.28 877.92L1118.47 872.99L1119.66 868.05L1120.84 863.11L1122.01 858.17L1123.19 853.23L1124.35 848.29L1125.51 843.34L1126.67 838.4L1127.82 833.45L1128.96 828.5L1130.1 823.55L1131.24 818.6L1132.37 813.65L1133.5 808.7L1134.63 803.75L1135.75 798.79L1136.87 793.84L1137.98 788.88L1139.09 783.92L1140.2 778.97L1141.3 774.01L1142.41 769.05L1143.51 764.09L1144.6 759.13L1145.7 754.17L1146.79 749.21L1147.88 744.25L1148.97 739.29L1150.05 734.33L1151.14 729.36L1152.22 724.4L1153.31 719.44L1154.39 714.48L1155.47 709.52L1156.55 704.55L1157.63 699.59L1158.7 694.63L1159.78 689.67L1160.86 684.71L1161.94 679.75L1163.02 674.78L1164.09 669.82L1165.17 664.86L1166.25 659.9L1167.33 654.95L1168.41 649.99L1169.5 645.03L1170.58 640.07L1171.66 635.12L1172.75 630.16L1173.84 625.21L1174.93 620.25L1176.02 615.3L1177.11 610.35L1178.21 605.4L1179.31 600.45L1180.41 595.5L1181.51 590.55L1182.63 585.61L1183.75 580.66L1184.88 575.73L1186.03 570.79L1187.19 565.86L1188.36 560.93L1189.56 556.01L1190.78 551.09L1192.01 546.18L1193.28 541.28L1194.57 536.38L1195.89 531.5L1197.23 526.61L1198.62 521.74L1200.03 516.88L1201.48 512.02L1202.98 507.18L1204.51 502.34L1206.08 497.52L1207.7 492.71L1209.36 487.91L1211.07 483.12L1212.84 478.34L1214.65 473.58L1216.52 468.83L1218.45 464.1L1220.43 459.38L1222.51 454.71L1224.72 450.1L1227.11 445.6L1229.72 441.23L1232.59 437.04L1235.76 433.04L1239.27 429.27L1243.15 425.82L1247.34 422.94L1251.79 420.92L1256.42 420.04L1261.16 420.45L1265.79 421.98L1270.14 424.41L1274.07 427.53L1277.59 431.22L1280.77 435.34L1283.65 439.75L1286.27 444.34L1288.68 448.97L1290.91 453.64L1292.97 458.32L1294.88 463.03L1296.67 467.76L1298.35 472.52L1299.94 477.29L1301.46 482.08L1302.93 486.88L1304.35 491.71L1305.75 496.54L1307.1 501.4L1308.42 506.26L1309.71 511.14L1310.97 516.03L1312.2 520.93L1313.4 525.85L1314.57 530.77L1315.72 535.71L1316.84 540.65L1317.94 545.6L1319.02 550.56L1320.07 555.53L1321.11 560.5L1322.14 565.48L1323.14 570.47L1324.14 575.46L1325.12 580.45L1326.09 585.45L1327.05 590.44L1328 595.44L1328.94 600.45L1329.88 605.45L1330.82 610.45L1331.74 615.45L1332.67 620.46L1333.59 625.46L1334.5 630.46L1335.41 635.47L1336.32 640.47L1337.22 645.48L1338.12 650.48L1339.01 655.49L1339.89 660.5L1340.78 665.5L1341.66 670.51L1342.53 675.52L1343.4 680.52L1344.27 685.53L1345.13 690.54L1345.99 695.55L1346.84 700.56L1347.69 705.57L1348.54 710.58L1349.38 715.58L1350.22 720.59L1351.06 725.61L1351.89 730.62L1352.72 735.63L1353.54 740.64L1354.36 745.65L1355.18 750.66L1356 755.67L1356.81 760.69L1357.62 765.7L1358.42 770.71L1359.22 775.72L1360.02 780.74L1360.82 785.75L1361.62 790.77L1362.41 795.78L1363.19 800.79L1363.98 805.81L1364.76 810.82L1365.54 815.84L1366.32 820.85L1367.1 825.87L1367.87 830.89L1368.64 835.9L1369.41 840.92L1370.18 845.93L1370.94 850.95L1371.71 855.97L1372.47 860.98L1373.23 866L1373.98 871.02L1374.74 876.04L1375.49 881.05L1376.24 886.07L1376.99 891.09L1377.74 896.11L1378.49 901.13L1379.23 906.15L1379.98 911.16L1380.72 916.18L1381.46 921.2L1382.2 926.22L1382.94 931.24L1383.68 936.26L1384.42 941.28L1385.15 946.3L1385.89 951.32L1386.62 956.34L1387.36 961.36L1388.09 966.38L1388.82 971.4L1389.55 976.42L1390.29 981.44L1391.02 986.46L1391.75 991.49L1392.48 996.51L1393.21 1001.53L1393.94 1006.55L1394.67 1011.57L1395.4 1016.59L1396.12 1021.61L1396.85 1026.63L1397.58 1031.66L1398.31 1036.68L1399.04 1041.7L1399.77 1046.72L1400.5 1051.74L1401.23 1056.76L1401.96 1061.79L1402.7 1066.81L1403.43 1071.83L1404.16 1076.85L1404.89 1081.87L1405.63 1086.9L1406.36 1091.92L1407.1 1096.94L1407.84 1101.96L1408.58 1106.99L1409.31 1112.01L1410.05 1117.03L1410.8 1122.05L1411.54 1127.07L1412.28 1132.1L1413.03 1137.12L1413.77 1142.14L1414.52 1147.16L1415.27 1152.18L1416.02 1157.21L1416.78 1162.23L1417.53 1167.25L1418.29 1172.27L1419.04 1177.29L1419.8 1182.31L1420.57 1187.33L1421.33 1192.35L1422.1 1197.37L1422.86 1202.39L1423.64 1207.41L1424.41 1212.43L1425.18 1217.45L1425.96 1222.47L1426.74 1227.48L1427.52 1232.5L1428.31 1237.52L1429.1 1242.54L1429.89 1247.55L1430.68 1252.57L1431.47 1257.58L1432.27 1262.6L1433.07 1267.61L1433.88 1272.63L1434.69 1277.64L1435.5 1282.65L1436.31 1287.67L1437.13 1292.68L1437.95 1297.69L1438.77 1302.7L1439.6 1307.71L1440.43 1312.72L1441.26 1317.73L1442.1 1322.74L1442.94 1327.75L1443.79 1332.75L1444.64 1337.76L1445.49 1342.77L1446.35 1347.77L1447.21 1352.78L1448.07 1357.78L1448.94 1362.78L1449.81 1367.79L1450.69 1372.79L1451.57 1377.79L1452.46 1382.79L1453.35 1387.79L1454.24 1392.78L1455.14 1397.78L1456.04 1402.78L1456.95 1407.77L1457.86 1412.77L1458.78 1417.76L1459.7 1422.75L1460.63 1427.74L1461.56 1432.73L1462.5 1437.72L1463.44 1442.71L1464.39 1447.7L1465.34 1452.69L1466.29 1457.67L1467.26 1462.66L1468.23 1467.64L1469.2 1472.62L1470.18 1477.6L1471.16 1482.58L1472.15 1487.56L1473.15 1492.54L1474.15 1497.52L1475.15 1502.49L1476.17 1507.47L1477.19 1512.44L1478.21 1517.41L1479.25 1522.38L1480.29 1527.35L1481.34 1532.31L1482.41 1537.27L1483.48 1542.23L1484.57 1547.19L1485.67 1552.15L1486.78 1557.1L1487.9 1562.04L1489.04 1566.99L1490.19 1571.93L1491.36 1576.86L1492.55 1581.8L1493.75 1586.72L1494.98 1591.65L1496.22 1596.56L1497.48 1601.48L1498.76 1606.39L1500.06 1611.29L1501.38 1616.18L1502.73 1621.07L1504.1 1625.96L1505.49 1630.84L1506.9 1635.71L1508.35 1640.58L1509.81 1645.43L1511.31 1650.29L1512.83 1655.13L1514.38 1659.97L1515.96 1664.8L1517.56 1669.62L1519.2 1674.43L1520.87 1679.24L1522.57 1684.03L1524.3 1688.82L1526.07 1693.6L1527.87 1698.37L1529.7 1703.13L1531.58 1707.88L1533.52 1712.59L1535.54 1717.26L1537.68 1721.86L1539.95 1726.38L1542.38 1730.79L1544.99 1735.08L1547.8 1739.24L1550.85 1743.24L1554.14 1747.07L1557.71 1750.7L1561.58 1754.13L1565.78 1757.33L1570.31 1760.28" fill="none" stroke="#ff0000" stroke-width="6.6" stroke-linejoin="round" stroke-linecap="butt" clip-path="url(#plotclip)"/>
<path d="M259 1745L262.8 1744.83L266.62 1744.67L270.43 1744.52L274.25 1744.37L278.08 1744.22L281.91 1744.07L285.74 1743.93L289.58 1743.79L293.41 1743.65L297.26 1743.52L301.1 1743.38L304.95 1743.25L308.8 1743.11L312.66 1742.98L316.52 1742.84L320.38 1742.7L324.24 1742.57L328.1 1742.42L331.97 1742.28L335.83 1742.13L339.7 1741.98L343.57 1741.82L347.44 1741.66L351.32 1741.49L355.19 1741.32L359.07 1741.13L362.94 1740.95L366.82 1740.75L370.69 1740.55L374.57 1740.34L378.44 1740.12L382.32 1739.89L386.2 1739.65L390.07 1739.4L393.95 1739.14L397.82 1738.87L401.69 1738.58L405.57 1738.29L409.44 1737.98L413.31 1737.66L417.17 1737.32L421.04 1736.97L424.9 1736.6L428.77 1736.22L432.63 1735.83L436.48 1735.41L440.34 1734.98L444.19 1734.54L448.04 1734.07L451.89 1733.59L455.73 1733.08L459.57 1732.56L463.41 1732.02L467.24 1731.46L471.07 1730.88L474.9 1730.27L478.72 1729.65L482.54 1729L486.35 1728.33L490.16 1727.63L493.96 1726.92L497.76 1726.17L501.55 1725.41L505.34 1724.62L509.12 1723.8L512.9 1722.96L516.67 1722.09L520.44 1721.19L524.19 1720.27L527.94 1719.32L531.68 1718.35L535.42 1717.35L539.14 1716.32L542.86 1715.26L546.57 1714.17L550.27 1713.06L553.96 1711.92L557.64 1710.75L561.31 1709.54L564.97 1708.31L568.62 1707.05L572.25 1705.76L575.88 1704.44L579.49 1703.09L583.09 1701.7L586.68 1700.29L590.26 1698.84L593.82 1697.37L597.37 1695.86L600.91 1694.31L604.43 1692.74L607.94 1691.13L611.43 1689.49L614.91 1687.82L618.37 1686.11L621.82 1684.36L625.25 1682.59L628.67 1680.78L632.07 1678.94L635.46 1677.07L638.83 1675.18L642.18 1673.25L645.53 1671.29L648.86 1669.31L652.17 1667.31L655.47 1665.27L658.76 1663.22L662.03 1661.14L665.3 1659.04L668.54 1656.91L671.78 1654.77L675 1652.6L678.21 1650.42L681.41 1648.22L684.59 1646L687.76 1643.77L690.92 1641.52L694.07 1639.25L697.21 1636.97L697.21 1636.98L700.38 1633.4L703.54 1629.8L706.71 1626.18L709.87 1622.55L713.03 1618.91L716.18 1615.24L719.32 1611.56L722.44 1607.86L725.55 1604.13L728.65 1600.39L731.73 1596.63L734.78 1592.85L737.81 1589.05L740.82 1585.23L743.79 1581.38L746.74 1577.51L749.65 1573.62L752.53 1569.7L755.37 1565.77L758.17 1561.8L760.93 1557.81L763.64 1553.8L766.31 1549.76L768.93 1545.7L771.5 1541.6L774.02 1537.49L776.49 1533.35L778.92 1529.18L781.31 1524.99L783.65 1520.78L785.94 1516.54L788.2 1512.28L790.41 1508.01L792.58 1503.71L794.72 1499.39L796.81 1495.05L798.87 1490.69L800.9 1486.31L802.88 1481.92L804.83 1477.51L806.75 1473.08L808.64 1468.63L810.49 1464.17L812.31 1459.69L814.11 1455.2L815.87 1450.7L817.6 1446.18L819.31 1441.65L821 1437.11L822.65 1432.55L824.29 1427.98L825.9 1423.41L827.48 1418.82L829.05 1414.22L830.59 1409.62L832.12 1405.01L833.62 1400.39L835.11 1395.76L836.58 1391.12L838.04 1386.48L839.48 1381.83L840.91 1377.18L842.32 1372.53L843.72 1367.87L845.12 1363.21L846.5 1358.54L847.87 1353.87L849.23 1349.2L850.58 1344.53L851.93 1339.86L853.27 1335.19L854.6 1330.52L855.93 1325.85L857.25 1321.17L858.56 1316.49L859.86 1311.82L861.16 1307.14L862.44 1302.46L863.73 1297.78L865 1293.1L866.27 1288.42L867.53 1283.73L868.78 1279.05L870.03 1274.37L871.27 1269.68L872.5 1264.99L873.73 1260.3L874.95 1255.61L876.17 1250.92L877.37 1246.23L878.58 1241.54L879.77 1236.85L880.96 1232.15L882.14 1227.46L883.32 1222.76L884.49 1218.06L885.65 1213.36L886.81 1208.66L887.96 1203.96L889.11 1199.26L890.25 1194.56L891.38 1189.85L892.51 1185.15L893.63 1180.44L894.75 1175.73L895.86 1171.02L896.97 1166.31L898.07 1161.6L899.16 1156.89L900.25 1152.18L901.34 1147.46L902.42 1142.75L903.49 1138.03L904.56 1133.31L905.63 1128.6L906.68 1123.88L907.74 1119.16L908.79 1114.43L909.83 1109.71L910.87 1104.99L911.91 1100.26L912.94 1095.54L913.96 1090.81L914.98 1086.08L916 1081.35L917.01 1076.62L918.02 1071.89L919.02 1067.15L920.02 1062.42L921.01 1057.68L922 1052.95L922.99 1048.21L923.97 1043.47L924.95 1038.73L925.92 1033.99L926.89 1029.25L927.86 1024.5L928.82 1019.76L929.78 1015.01L930.73 1010.27L931.69 1005.52L932.63 1000.77L933.58 996.02L934.52 991.27L935.46 986.52L936.39 981.76L937.32 977.01L938.25 972.25L939.18 967.5L940.11 962.74L941.03 957.98L941.96 953.23L942.88 948.47L943.8 943.71L944.72 938.95L945.64 934.19L946.56 929.43L947.48 924.67L948.4 919.91L949.33 915.15L950.25 910.39L951.17 905.63L952.1 900.87L953.03 896.11L953.96 891.36L954.89 886.6L955.82 881.84L956.76 877.08L957.7 872.33L958.64 867.57L959.59 862.81L960.54 858.06L961.49 853.31L962.45 848.55L963.41 843.8L964.38 839.05L965.36 834.3L966.33 829.55L967.32 824.81L968.31 820.06L969.3 815.32L970.3 810.57L971.31 805.83L972.32 801.09L973.35 796.36L974.38 791.62L975.41 786.89L976.46 782.15L977.51 777.42L978.57 772.69L979.64 767.97L980.71 763.24L981.8 758.52L982.9 753.8L984 749.09L985.12 744.37L986.24 739.66L987.38 734.95L988.52 730.24L989.68 725.54L990.85 720.84L992.03 716.14L993.22 711.44L994.42 706.75L995.63 702.06L996.86 697.37L998.1 692.69L999.35 688.01L1000.61 683.33L1001.89 678.66L1003.18 673.99L1004.49 669.32L1005.81 664.66L1007.14 660L1008.49 655.34L1009.85 650.69L1011.23 646.05L1012.62 641.4L1014.03 636.76L1015.46 632.13L1016.9 627.49L1018.35 622.87L1019.83 618.24L1021.32 613.63L1022.82 609.01L1024.35 604.4L1025.89 599.8L1027.45 595.2L1029.03 590.6L1030.64 586.02L1032.27 581.45L1033.93 576.89L1035.63 572.34L1037.37 567.81L1039.14 563.31L1040.96 558.82L1042.82 554.36L1044.73 549.92L1046.7 545.51L1048.72 541.13L1050.8 536.78L1052.94 532.46L1055.14 528.18L1057.41 523.94L1059.75 519.74L1062.17 515.58L1064.66 511.46L1067.22 507.37L1069.86 503.33L1072.57 499.32L1075.36 495.35L1078.23 491.41L1081.17 487.5L1084.19 483.63L1087.3 479.8L1090.53 476.08L1093.9 472.55L1097.46 469.25L1101.24 466.27L1105.26 463.68L1109.57 461.53L1114.18 459.92L1118.93 459.04L1123.59 459.17L1127.92 460.58L1131.83 463.21L1135.39 466.63L1138.68 470.4L1141.76 474.28L1144.64 478.24L1147.36 482.28L1149.94 486.38L1152.4 490.53L1154.77 494.73L1157.06 498.97L1159.32 503.24L1161.54 507.53L1163.72 511.84L1165.88 516.17L1168 520.52L1170.09 524.89L1172.16 529.28L1174.19 533.68L1176.2 538.09L1178.18 542.52L1180.13 546.96L1182.05 551.41L1183.95 555.87L1185.83 560.34L1187.68 564.82L1189.5 569.3L1191.31 573.8L1193.08 578.3L1194.84 582.81L1196.57 587.33L1198.28 591.86L1199.97 596.39L1201.64 600.93L1203.29 605.48L1204.92 610.04L1206.52 614.6L1208.11 619.17L1209.68 623.75L1211.23 628.33L1212.76 632.92L1214.27 637.52L1215.77 642.12L1217.25 646.73L1218.71 651.34L1220.16 655.96L1221.59 660.59L1223 665.21L1224.41 669.85L1225.79 674.49L1227.17 679.13L1228.52 683.78L1229.87 688.43L1231.21 693.09L1232.53 697.75L1233.84 702.42L1235.14 707.08L1236.42 711.76L1237.7 716.43L1238.97 721.11L1240.23 725.79L1241.48 730.48L1242.72 735.16L1243.95 739.85L1245.17 744.55L1246.39 749.24L1247.6 753.94L1248.8 758.63L1250 763.33L1251.19 768.04L1252.38 772.74L1253.56 777.44L1254.73 782.15L1255.91 786.85L1257.08 791.56L1258.24 796.27L1259.41 800.98L1260.57 805.68L1261.73 810.39L1262.89 815.1L1264.04 819.81L1265.19 824.52L1266.35 829.23L1267.49 833.93L1268.64 838.64L1269.79 843.35L1270.93 848.06L1272.07 852.77L1273.21 857.48L1274.35 862.19L1275.48 866.91L1276.61 871.62L1277.75 876.33L1278.87 881.04L1280 885.75L1281.13 890.46L1282.25 895.18L1283.37 899.89L1284.49 904.6L1285.61 909.32L1286.73 914.03L1287.84 918.74L1288.95 923.46L1290.06 928.17L1291.17 932.89L1292.28 937.6L1293.39 942.32L1294.49 947.03L1295.59 951.75L1296.69 956.46L1297.79 961.18L1298.89 965.9L1299.98 970.61L1301.08 975.33L1302.17 980.05L1303.26 984.77L1304.35 989.48L1305.44 994.2L1306.52 998.92L1307.61 1003.64L1308.69 1008.36L1309.77 1013.08L1310.85 1017.8L1311.93 1022.52L1313.01 1027.24L1314.08 1031.96L1315.16 1036.69L1316.23 1041.41L1317.3 1046.13L1318.37 1050.85L1319.44 1055.58L1320.51 1060.3L1321.58 1065.02L1322.64 1069.75L1323.7 1074.47L1324.77 1079.2L1325.83 1083.92L1326.89 1088.65L1327.95 1093.38L1329 1098.1L1330.06 1102.83L1331.12 1107.56L1332.17 1112.29L1333.22 1117.01L1334.27 1121.74L1335.32 1126.47L1336.37 1131.2L1337.42 1135.93L1338.47 1140.66L1339.51 1145.39L1340.56 1150.12L1341.6 1154.85L1342.65 1159.59L1343.69 1164.32L1344.73 1169.05L1345.77 1173.79L1346.81 1178.52L1347.85 1183.25L1348.88 1187.99L1349.92 1192.72L1350.96 1197.46L1351.99 1202.19L1353.02 1206.93L1354.06 1211.67L1355.09 1216.41L1356.12 1221.14L1357.15 1225.88L1358.19 1230.62L1359.22 1235.36L1360.25 1240.09L1361.29 1244.83L1362.32 1249.57L1363.36 1254.31L1364.4 1259.04L1365.44 1263.78L1366.48 1268.52L1367.53 1273.25L1368.57 1277.99L1369.62 1282.72L1370.68 1287.45L1371.73 1292.19L1372.79 1296.92L1373.85 1301.65L1374.92 1306.38L1375.99 1311.11L1377.06 1315.84L1378.14 1320.57L1379.22 1325.29L1380.31 1330.02L1381.4 1334.74L1382.5 1339.46L1383.6 1344.18L1384.71 1348.9L1385.83 1353.61L1386.95 1358.33L1388.07 1363.04L1389.21 1367.75L1390.35 1372.46L1391.49 1377.17L1392.65 1381.88L1393.81 1386.58L1394.98 1391.28L1396.15 1395.98L1397.34 1400.68L1398.53 1405.37L1399.73 1410.06L1400.94 1414.75L1402.16 1419.44L1403.39 1424.12L1404.62 1428.8L1405.87 1433.48L1407.13 1438.16L1408.39 1442.83L1409.67 1447.5L1410.95 1452.16L1412.25 1456.83L1413.56 1461.49L1414.88 1466.14L1416.21 1470.8L1417.55 1475.45L1418.9 1480.09L1420.27 1484.74L1421.64 1489.38L1423.03 1494.01L1424.44 1498.64L1425.85 1503.27L1427.28 1507.9L1428.72 1512.52L1430.17 1517.13L1431.64 1521.74L1433.12 1526.35L1434.62 1530.95L1436.12 1535.55L1437.65 1540.15L1439.19 1544.74L1440.74 1549.33L1442.31 1553.91L1443.89 1558.48L1445.49 1563.06L1447.11 1567.62L1448.74 1572.19L1450.38 1576.74L1452.05 1581.3L1453.73 1585.84L1455.42 1590.39L1457.14 1594.92L1458.87 1599.45L1460.62 1603.98L1462.38 1608.5L1464.17 1613.02L1465.97 1617.52L1467.8 1622.02L1469.65 1626.51L1471.52 1630.99L1473.42 1635.46L1475.35 1639.92L1477.3 1644.37L1479.28 1648.8L1481.29 1653.22L1483.32 1657.62L1485.39 1662.01L1487.5 1666.38L1489.63 1670.74L1491.81 1675.08L1494.01 1679.39L1496.26 1683.69L1498.54 1687.97L1500.86 1692.23L1503.23 1696.47L1505.63 1700.68L1508.08 1704.87L1510.57 1709.03L1513.1 1713.17L1515.69 1717.29L1518.31 1721.37L1520.99 1725.43L1523.72 1729.46L1526.53 1733.43L1529.43 1737.3L1532.46 1741.05L1535.65 1744.65L1539.01 1748.05L1542.58 1751.22L1546.39 1754.14L1550.45 1756.76L1554.81 1759.06L1559.47 1761.01" fill="none" stroke="#000000" stroke-width="6.6" stroke-linejoin="round" stroke-linecap="butt" clip-path="url(#plotclip)"/>
<rect x="259" y="41.1" width="1427.5" height="1723" fill="none" stroke="#000" stroke-width="6.7"/>
<path d="M259 1662.75h9M259 1561.4h16.5M259 1460.05h9M259 1358.7h16.5M259 1257.35h9M259 1156h16.5M259 1054.65h9M259 953.3h16.5M259 851.95h9M259 750.6h16.5M259 649.25h9M259 547.9h16.5M259 446.55h9M259 345.2h16.5M259 243.85h9M259 142.5h16.5M422.77 1764.1v-9M586.55 1764.1v-16.5M750.33 1764.1v-9M914.1 1764.1v-16.5M1077.88 1764.1v-9M1241.65 1764.1v-16.5M1405.42 1764.1v-9M1569.2 1764.1v-16.5" stroke="#000" stroke-width="6.7" stroke-linecap="round" fill="none"/>
<text class="serif" x="209.3" y="1783.4" font-size="61.5">0</text>
<text class="serif" x="210.8" y="1580.7" font-size="61.5">1</text>
<text class="serif" x="210.3" y="1378" font-size="61.5">2</text>
<text class="serif" x="209.55" y="1175.3" font-size="61.5">3</text>
<text class="serif" x="208.05" y="972.6" font-size="61.5">4</text>
<text class="serif" x="209.55" y="769.9" font-size="61.5">5</text>
<text class="serif" x="208.8" y="567.2" font-size="61.5">6</text>
<text class="serif" x="208.8" y="364.5" font-size="61.5">7</text>
<text class="serif" x="209.3" y="161.8" font-size="61.5">8</text>
<text class="serif" x="259.4" y="1828.4" font-size="61.5" text-anchor="middle">0.0</text>
<text class="serif" x="586.95" y="1828.4" font-size="61.5" text-anchor="middle">0.5</text>
<text class="serif" x="914.5" y="1828.4" font-size="61.5" text-anchor="middle">1.0</text>
<text class="serif" x="1242.05" y="1828.4" font-size="61.5" text-anchor="middle">1.5</text>
<text class="serif" x="1569.6" y="1828.4" font-size="61.5" text-anchor="middle">2.0</text>
<text class="serif" x="709.93" y="1918.34" font-size="74">ρ</text>
<text class="serif" x="751.98" y="1918.36" font-size="74">–</text>
<text class="serif" font-size="74" transform="translate(809.57 1918.36) scale(0.9850 1.0000)">coordinate</text>
<path d="M1301.15 118.09H1433.45" stroke="#ff0000" stroke-width="6.3" stroke-linecap="round" fill="none"/>
<path d="M1310.11 221.22H1443.01" stroke="#0000ff" stroke-width="6.3" stroke-linecap="round" fill="none"/>
<path d="M1310.49 319.42H1442.68" stroke="#000000" stroke-width="6.3" stroke-linecap="round" fill="none"/>
<text class="serif" x="1459.49" y="137.2" font-size="61">a=1.4a</text>
<text class="serif" x="1621.72" y="158.34" font-size="37">D</text>
<text class="serif" x="1622.95" y="104.39" font-size="34">*</text>
<text class="serif" x="1459.15" y="238.9" font-size="61">a=1.2a</text>
<text class="serif" x="1621.38" y="259.84" font-size="37">D</text>
<text class="serif" x="1622.61" y="205.99" font-size="34">*</text>
<text class="serif" x="1460.12" y="340.71" font-size="61">a=1a</text>
<text class="serif" x="1576.65" y="361.59" font-size="37">D</text>
<text class="serif" x="1577.47" y="307.84" font-size="34">*</text>
<text class="serif sm" x="429.35" y="464.29" font-size="39.3">a=1.4a</text>
<text class="serif sm" x="536.01" y="477.84" font-size="24">D</text>
<text class="serif sm" x="535.6" y="447.79" font-size="24">*</text>
<text class="serif sm" x="421.77" y="864.86" font-size="42.2">a=1.2a</text>
<text class="serif sm" x="536.27" y="879.74" font-size="25">D</text>
<text class="serif sm" x="535.89" y="845.19" font-size="25">*</text>
<text class="serif sm" x="442.53" y="1269.34" font-size="44.6">a=1a</text>
<text class="serif sm" x="529.63" y="1284.72" font-size="26">D</text>
<text class="serif sm" x="529.85" y="1247.72" font-size="26">*</text>
<text class="serif sm" x="731.69" y="1131.59" font-size="37">0</text>
<text class="serif sm" font-size="46.3" transform="translate(775.63 758.23) rotate(-90) scale(1 1.05) translate(-0.5 0)">Ascendant</text>
<text class="sans" font-size="72" transform="translate(83.29 1068.64) rotate(-90) scale(0.7200 1.0000) translate(-6.5 0)">|</text>
<text class="dserif ns" font-size="69.6" transform="translate(84.23 1058.34) rotate(-90) scale(1.0350 1.0000) translate(-4.5 0)">ψ</text>
<text class="sans" font-size="43" transform="translate(108.89 1008.52) rotate(-90) scale(1.0000 1.0000) translate(-1.75 0)">e</text>
<text class="sans" font-size="72" transform="translate(83.56 987.44) rotate(-90) scale(1.0000 1.0000) translate(-4.5 0)">(</text>
<text class="sans" font-size="52.8" transform="translate(72.68 952.4) rotate(-90) scale(1.1200 1.0000) translate(-3.25 0)">ρ</text>
<text class="sans" font-size="43" transform="translate(109.11 941.82) rotate(-90) scale(1.0000 1.0000) translate(-1.75 0)">e</text>
<text class="sans" font-size="72" transform="translate(83.79 918.74) rotate(-90) scale(1.0000 1.0000) translate(-0.5 0)">)</text>
<text class="sans" font-size="72" transform="translate(83.88 892.94) rotate(-90) scale(1.0000 1.0000) translate(-6.5 0)">|</text>
<text class="sans" font-size="45" transform="translate(46.32 878.71) rotate(-90) scale(1.0000 1.0000) translate(-2.25 0)">2</text>
</g>
</svg>
</body>
</html>
